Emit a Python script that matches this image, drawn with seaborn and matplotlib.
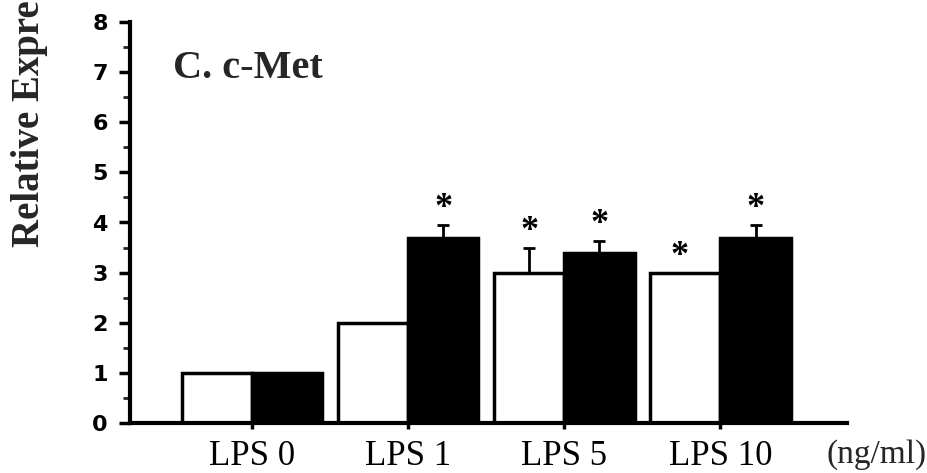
import numpy as np
import pandas as pd
import matplotlib
matplotlib.use("Agg")
import matplotlib.pyplot as plt
import seaborn as sns
from matplotlib.ticker import MultipleLocator

doses = ["LPS 0", "LPS 1", "LPS 5", "LPS 10"]
groups = ["control", "treated"]
white_vals = [1.0, 2.0, 3.0, 3.0]
black_vals = [1.0, 3.7, 3.4, 3.7]
white_err = [0.0, 0.0, 0.5, 0.0]
black_err = [0.0, 0.25, 0.24, 0.26]
white_star = [False, False, True, True]
black_star = [False, True, True, True]

df = pd.DataFrame({
    "dose": doses * 2,
    "group": [groups[0]] * 4 + [groups[1]] * 4,
    "value": white_vals + black_vals,
})

sns.set_theme(style="ticks")
serif = ["Liberation Serif", "DejaVu Serif"]

fig = plt.figure(figsize=(9.27, 4.73), dpi=100)
ax = fig.add_axes([130 / 927, 50 / 473, 717 / 927, 401 / 473])

sns.barplot(data=df, x="dose", y="value", hue="group", order=doses,
            hue_order=groups, palette={"control": "white", "treated": "black"},
            edgecolor="black", linewidth=2.5, width=0.9, gap=0,
            errorbar=None, legend=False, ax=ax)

for cont, vals, errs, stars in zip(ax.containers, [white_vals, black_vals],
                                   [white_err, black_err], [white_star, black_star]):
    for bar, v, e, s in zip(cont, vals, errs, stars):
        xc = bar.get_x() + bar.get_width() / 2
        if e > 0:
            ax.errorbar(xc, v, yerr=[[0], [e]], fmt="none", ecolor="black",
                        elinewidth=2, capsize=4, capthick=2, zorder=1)
        if s:
            ax.text(xc - (0.04 if e == 0 else 0), v + e + 0.32, "*",
                    ha="center", va="center", fontsize=26, fontweight="bold",
                    family=serif, color="black")

ax.set_xlim(-0.78, 3.81)
ax.set_ylim(0, 8)
ax.yaxis.set_major_locator(MultipleLocator(1))
ax.yaxis.set_minor_locator(MultipleLocator(0.5))
sns.despine(ax=ax)
for side in ["left", "bottom"]:
    ax.spines[side].set_linewidth(3)
    ax.spines[side].set_color("black")

ax.tick_params(axis="y", which="major", direction="out", length=8, width=2.5,
               pad=8, labelsize=16, colors="black")
ax.tick_params(axis="y", which="minor", direction="out", length=5, width=2)
ax.tick_params(axis="x", direction="out", length=4, width=2.5, pad=8,
               labelsize=25, colors="black")
for lab in ax.get_yticklabels():
    lab.set_fontweight("bold")
    lab.set_family("DejaVu Sans")
for lab in ax.get_xticklabels():
    lab.set_family(serif)

ax.set_xlabel("")
ax.set_ylabel("")
ax.grid(False)

ax.text(0.06, 0.885, "C. c-Met", transform=ax.transAxes, fontsize=29,
        fontweight="bold", family=serif, ha="left", va="center")
fig.text(827 / 927, 1 - 455 / 473, "(ng/ml)", fontsize=24, family=serif,
         ha="left", va="center")
# the reference shows only the part of the axis title that fits in the picture
fig.text(30 / 927, 1 - 247 / 473, "Relative Expre", rotation=90,
         fontsize=28, fontweight="bold", family=serif, ha="center", va="bottom")

fig.savefig("out.png", dpi=100, facecolor="white")
